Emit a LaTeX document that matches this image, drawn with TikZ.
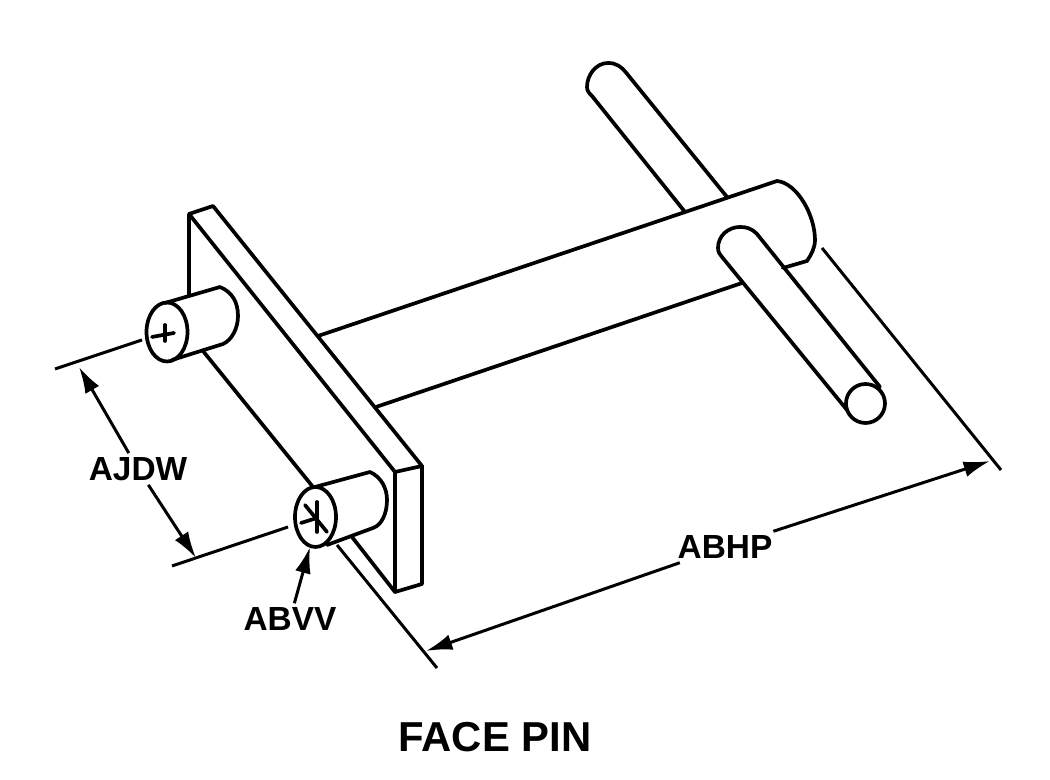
\documentclass[tikz,border=0pt]{standalone}
\usepackage{fontspec}
\setmainfont{Liberation Sans}
\usetikzlibrary{arrows.meta}
\tikzset{
	part/.style={line width=1.05pt,line join=round,line cap=round},
	extline/.style={line width=0.85pt},
	dimline/.style={line width=0.85pt,-{Latex[length=7.5pt,width=4.5pt]}},
	dimlabel/.style={font=\fontsize{9.5}{11}\selectfont\bfseries,inner sep=1pt}
}
\begin{document}
\begin{tikzpicture}[x=0.01cm,y=-0.01cm]
	\useasboundingbox (0,0) rectangle (1050,780);
	% plate
	\draw[part] (189,296) -- (189,214) -- (213,206) -- (422,466) -- (422,584) -- (395,592) -- (395,472) -- (189,214);
	\draw[part] (395,472) -- (422,466);
	\draw[part] (203,351) -- (313,487);
	\draw[part] (352,537) -- (395,592);
	% pin at the top
	\draw[part] (167,332) ellipse [x radius=20.5,y radius=29.5];
	\draw[part] (165,303) -- (220,287) .. controls (232,292) and (238,302) .. (238,316) .. controls (238,328) and (232,340) .. (223,344) -- (172,360);
	\draw[part] (152,337) -- (174,333);
	\draw[part] (165,325) -- (165,341);
	% pin at the bottom
	\draw[part] (315.5,517) ellipse [x radius=20.5,y radius=30];
	\draw[part] (315,487) -- (370,472) .. controls (381,477) and (387,488) .. (387,500) .. controls (387,513) and (382,525) .. (373,528) -- (327,545);
	\draw[part] (317,502) -- (317,532);
	\draw[part] (305,505) -- (327,532);
	\draw[part] (301,523) -- (317,518);
	% shaft
	\draw[part] (318,336) -- (777,181) .. controls (797,183) and (815,215) .. (815,240) .. controls (815,248) and (811,255) .. (807,261) -- (783,268);
	\draw[part] (376,407) -- (742,283);
	% rod behind
	\draw[part] (727,197) -- (628,75) .. controls (621,66) and (616,63) .. (608,63) .. controls (596,63) and (587,75) .. (587,87) .. controls (587,91) and (589,93) .. (592,96) -- (685,212);
	% rod in front
	\draw[part] (880,387) -- (757,234) .. controls (751,228) and (746,227) .. (740,227) .. controls (728,227) and (718,236) .. (718,248) .. controls (718,252) and (720,255) .. (722,257) -- (847,410);
	\draw[part] (865.5,403.5) circle [radius=19.5];
	% extension lines
	\draw[extline] (55,369) -- (142,340);
	\draw[extline] (172,566) -- (288,527);
	\draw[extline] (337,545) -- (437,668);
	\draw[extline] (822,248) -- (1001,470);
	% labels
	\node[dimlabel] (ajdw) at (138,469) {AJDW};
	\node[dimlabel] (abhp) at (725,547) {ABHP};
	\node[dimlabel] (abvv) at (290,619) {ABVV};
	\node[font=\fontsize{11.9}{14}\selectfont\bfseries,inner sep=1pt] (title) at (495,737) {FACE PIN};
	% dimensions
	\coordinate (ajdwtop) at (79,367);
	\coordinate (ajdwbot) at (196,558);
	\coordinate (abhpleft) at (426,651);
	\coordinate (abhpright) at (990,461);
	\coordinate (abvvtip) at (310,547);
	\draw[dimline] (ajdw) -- (ajdwtop);
	\draw[dimline] (ajdw) -- (ajdwbot);
	\draw[dimline] (abhp) -- (abhpleft);
	\draw[dimline] (abhp) -- (abhpright);
	\draw[dimline] (abvv) -- (abvvtip);
\end{tikzpicture}
\end{document}
